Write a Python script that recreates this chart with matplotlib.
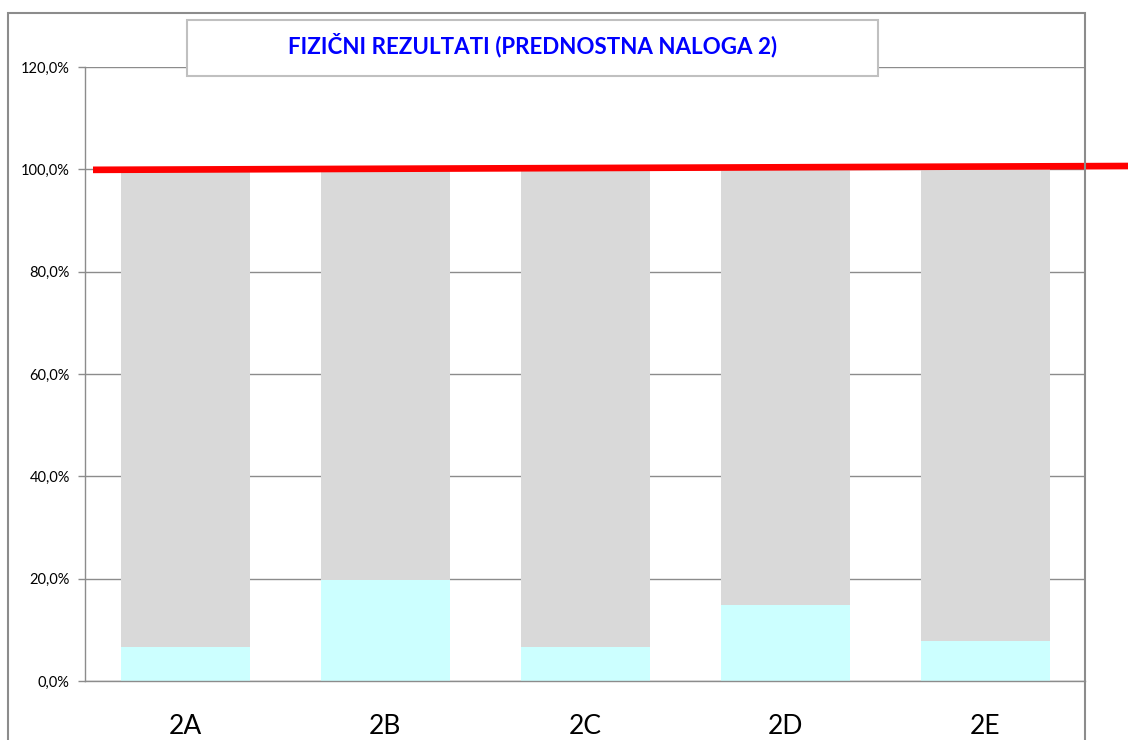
import matplotlib
matplotlib.use("Agg")
import matplotlib.pyplot as plt
from matplotlib.patches import Rectangle
from matplotlib.ticker import FuncFormatter

categories = ["2A", "2B", "2C", "2D", "2E"]
achieved = [6.6, 19.7, 6.6, 14.9, 7.8]
remaining = [100 - v for v in achieved]
target_line = [99.9, 100.65]  # red line value at left and right ends
yticks = [0, 20, 40, 60, 80, 100, 120]
title = "FIZIČNI REZULTATI (PREDNOSTNA NALOGA 2)"

W, H = 1128, 740
fig = plt.figure(figsize=(W / 100, H / 100), dpi=100)
plt.rcParams['font.family'] = ['Lato', 'DejaVu Sans']

# outer chart-area frame
fig.add_artist(Rectangle((8 / W, -0.05), (1085 - 8) / W, 1.05 - 13 / H,
                         transform=fig.transFigure, fill=False,
                         edgecolor="#8c8c8c", linewidth=1.5))

ax = fig.add_axes([85 / W, (H - 681) / H, 1000 / W, 614 / H])
x = list(range(len(categories)))
ax.bar(x, achieved, width=0.645, color="#CCFFFF", zorder=2)
ax.bar(x, remaining, bottom=achieved, width=0.645, color="#D9D9D9", zorder=2)

ax.set_xlim(-0.5, len(categories) - 0.5)
ax.set_ylim(0, 120)
ax.set_yticks(yticks)
ax.yaxis.set_major_formatter(FuncFormatter(lambda v, p: f"{v:.1f}".replace(".", ",") + "%"))
ax.grid(axis="y", color="#8c8c8c", linewidth=1.0, zorder=0)
ax.set_axisbelow(True)
ax.set_xticks(x)
ax.set_xticklabels(categories, fontsize=19)
ax.tick_params(axis="x", length=0, pad=24)
ax.tick_params(axis="y", length=5, width=1.0, color="#8c8c8c", labelsize=10.5, pad=6)
for s in ["top", "right"]:
    ax.spines[s].set_visible(False)
ax.spines["left"].set_color("#8c8c8c")
ax.spines["bottom"].set_color("#8c8c8c")
ax.spines["left"].set_linewidth(1.0)
ax.spines["bottom"].set_linewidth(1.0)

# red target line extending past right edge
xl = -0.5 + (93 - 85) / 200
xr = -0.5 + (1130 - 85) / 200
ax.plot([xl, xr], target_line, color="#FF0000", linewidth=4.8, clip_on=False,
        zorder=5, solid_capstyle="butt")

# title box
fig.add_artist(Rectangle((187 / W, 1 - 76 / H), (878 - 187) / W, 56 / H,
                         transform=fig.transFigure, facecolor="white",
                         edgecolor="#c0c0c0", linewidth=1.5, zorder=3))
t = fig.text((187 + 878) / 2 / W, 1 - 45 / H, title, ha="center", va="center",
             fontsize=16.1, fontweight="bold", color="#0000FF")
t.set_zorder(4)

fig.savefig("out.png", dpi=100)
